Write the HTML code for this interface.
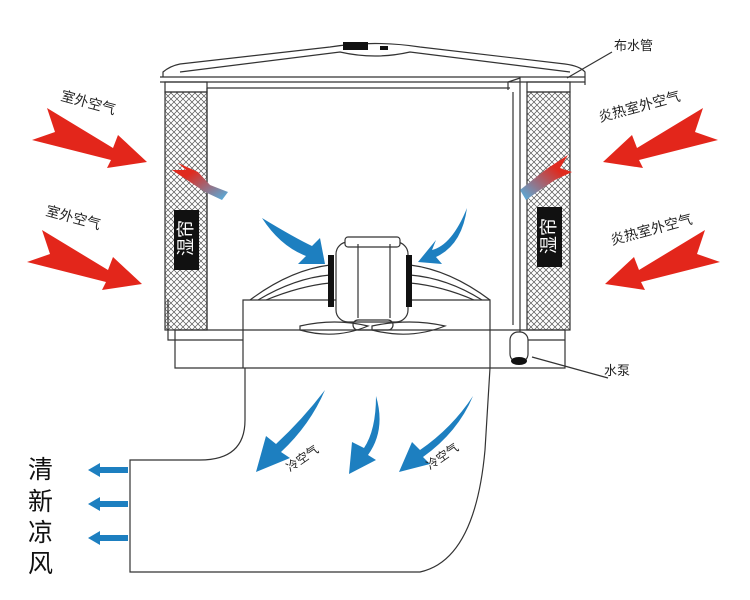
<!DOCTYPE html>
<html><head><meta charset="utf-8"><style>
body{margin:0;background:#fff;}
svg{display:block;font-family:"Liberation Sans","Noto Sans CJK SC",sans-serif;}
</style></head><body>
<svg width="750" height="600" viewBox="0 0 750 600" xmlns="http://www.w3.org/2000/svg">
<defs>
<pattern id="mesh" width="6" height="6" patternUnits="userSpaceOnUse">
<path d="M0,0L6,6M6,0L0,6" stroke="#555" stroke-width="0.7"/>
</pattern>
<linearGradient id="rb" x1="0" y1="0" x2="1" y2="1">
<stop offset="0.3" stop-color="#e02a1e"/><stop offset="1" stop-color="#4fb4e6"/>
</linearGradient>
<linearGradient id="rb2" x1="1" y1="0" x2="0" y2="1">
<stop offset="0.3" stop-color="#e02a1e"/><stop offset="1" stop-color="#4fb4e6"/>
</linearGradient>
<g id="red"><polygon points="47,108 113,148 118,135 147,162 107,168 111,160 32,140 55,132" fill="#e3261b"/></g>
</defs>
<g fill="none" stroke="#333" stroke-width="1.2">
<path d="M163,77 L163,72 Q170,66 180,64 L330,47 Q375,40 420,47 L565,64 Q580,66 585,72 L585,85"/>
<path d="M180,72 L340,52 Q375,60 410,52 L570,72"/>
<path d="M160,77 L585,77 M160,82 L585,82 M207,88 L510,88"/>
<rect x="165" y="82" width="42" height="10"/>
<rect x="165" y="92" width="42" height="238" fill="url(#mesh)"/>
<path d="M207,88 L207,330 M168,300 L168,340 L243,340"/>
<rect x="527" y="82" width="43" height="10"/>
<rect x="527" y="92" width="43" height="238" fill="url(#mesh)"/>
<path d="M508,90 L508,82 L520,78 L520,340 M513,92 L513,325"/>
<path d="M175,330 L175,368 L565,368 L565,330 M175,330 L565,330"/>
<path d="M243,340 L243,300 L490,300 L490,340 M520,340 L565,340"/>
<path d="M243,340 L243,368 M490,340 L490,368"/>
<path d="M245,368 L245,420 Q245,460 200,460 L130,460 L130,572 L420,572 Q475,560 485,450 L490,368"/>
<path d="M250,300 Q290,270 330,265 M258,300 Q295,278 330,275 M266,300 Q300,286 330,283"/>
<path d="M490,300 Q450,270 410,265 M482,300 Q447,278 410,275 M474,300 Q442,286 410,283"/>
<rect x="336" y="242" width="72" height="80" rx="12" fill="#fff"/>
<rect x="345" y="237" width="55" height="10" rx="3" fill="#fff"/>
<path d="M358,244 L358,318 M390,244 L390,318"/>
<rect x="353" y="320" width="40" height="10" rx="5"/>
<path d="M300,326 Q335,318 368,326 Q335,340 300,330 Z M372,326 Q410,318 445,326 Q410,340 372,330 Z"/>
<rect x="510" y="332" width="18" height="30" rx="8" fill="#fff"/>
<path d="M567,78 L612,52 M532,357 L608,378"/>
</g>
<rect x="343" y="42" width="25" height="8" fill="#111"/>
<rect x="380" y="46" width="8" height="4" fill="#111"/>
<rect x="328" y="255" width="6" height="52" fill="#111"/>
<rect x="406" y="255" width="6" height="52" fill="#111"/>
<ellipse cx="519" cy="361" rx="8" ry="4" fill="#111"/>
<rect x="174" y="210" width="25" height="60" fill="#111"/>
<rect x="537" y="207" width="25" height="60" fill="#111"/>
<g fill="#fff" font-size="18" text-anchor="middle">
<text x="186" y="238" transform="rotate(-90 186 238)" dy="6">湿帘</text>
<text x="549" y="236" transform="rotate(-90 549 236)" dy="6">湿帘</text>
</g>
<use href="#red"/>
<use href="#red" transform="translate(-5,122)"/>
<use href="#red" transform="translate(750,0) scale(-1,1)"/>
<use href="#red" transform="translate(752,122) scale(-1,1)"/>
<polygon points="178,163 198,172 210,185 228,192 222,200 205,192 190,182 172,170 186,170" fill="url(#rb)"/>
<polygon points="568,155 548,168 535,178 520,190 526,200 540,190 555,180 572,172 560,168" fill="url(#rb2)"/>
<g fill="#1d7fc0">
<path d="M262,218 Q295,238 312,246 L320,238 L325,264 L298,264 L306,256 Q280,246 262,218 Z"/>
<path d="M467,208 Q452,245 432,250 L436,240 L418,262 L442,264 L436,257 Q462,245 467,208 Z"/>
<path d="M325,390 Q302,420 276,444 L266,436 L256,472 L290,458 L281,452 Q310,425 325,390 Z"/>
<path d="M376,396 Q376,430 364,448 L352,442 L349,474 L376,460 L368,455 Q386,430 376,396 Z"/>
<path d="M473,396 Q452,428 420,450 L412,442 L399,472 L430,464 L423,457 Q458,432 473,396 Z"/>
</g>
<g fill="#1d7fc0">
<polygon points="88,470 100,463 100,467 128,467 128,473 100,473 100,477"/>
<polygon points="88,504 100,497 100,501 128,501 128,507 100,507 100,511"/>
<polygon points="88,538 100,531 100,535 128,535 128,541 100,541 100,545"/>
</g>
<g fill="#222" font-size="14">
<text x="60" y="100" transform="rotate(15 60 100)">室外空气</text>
<text x="45" y="215" transform="rotate(15 45 215)">室外空气</text>
<text x="600" y="122" transform="rotate(-15 600 122)">炎热室外空气</text>
<text x="612" y="245" transform="rotate(-15 612 245)">炎热室外空气</text>
<text x="614" y="50" font-size="13">布水管</text>
<text x="604" y="375" font-size="13">水泵</text>
<text x="290" y="472" font-size="12" transform="rotate(-35 290 472)">冷空气</text>
<text x="430" y="470" font-size="12" transform="rotate(-35 430 470)">冷空气</text>
</g>
<g fill="#111" font-size="25">
<text x="28" y="478">清</text>
<text x="28" y="510">新</text>
<text x="28" y="541">凉</text>
<text x="28" y="572">风</text>
</g>
</svg>
</body></html>
